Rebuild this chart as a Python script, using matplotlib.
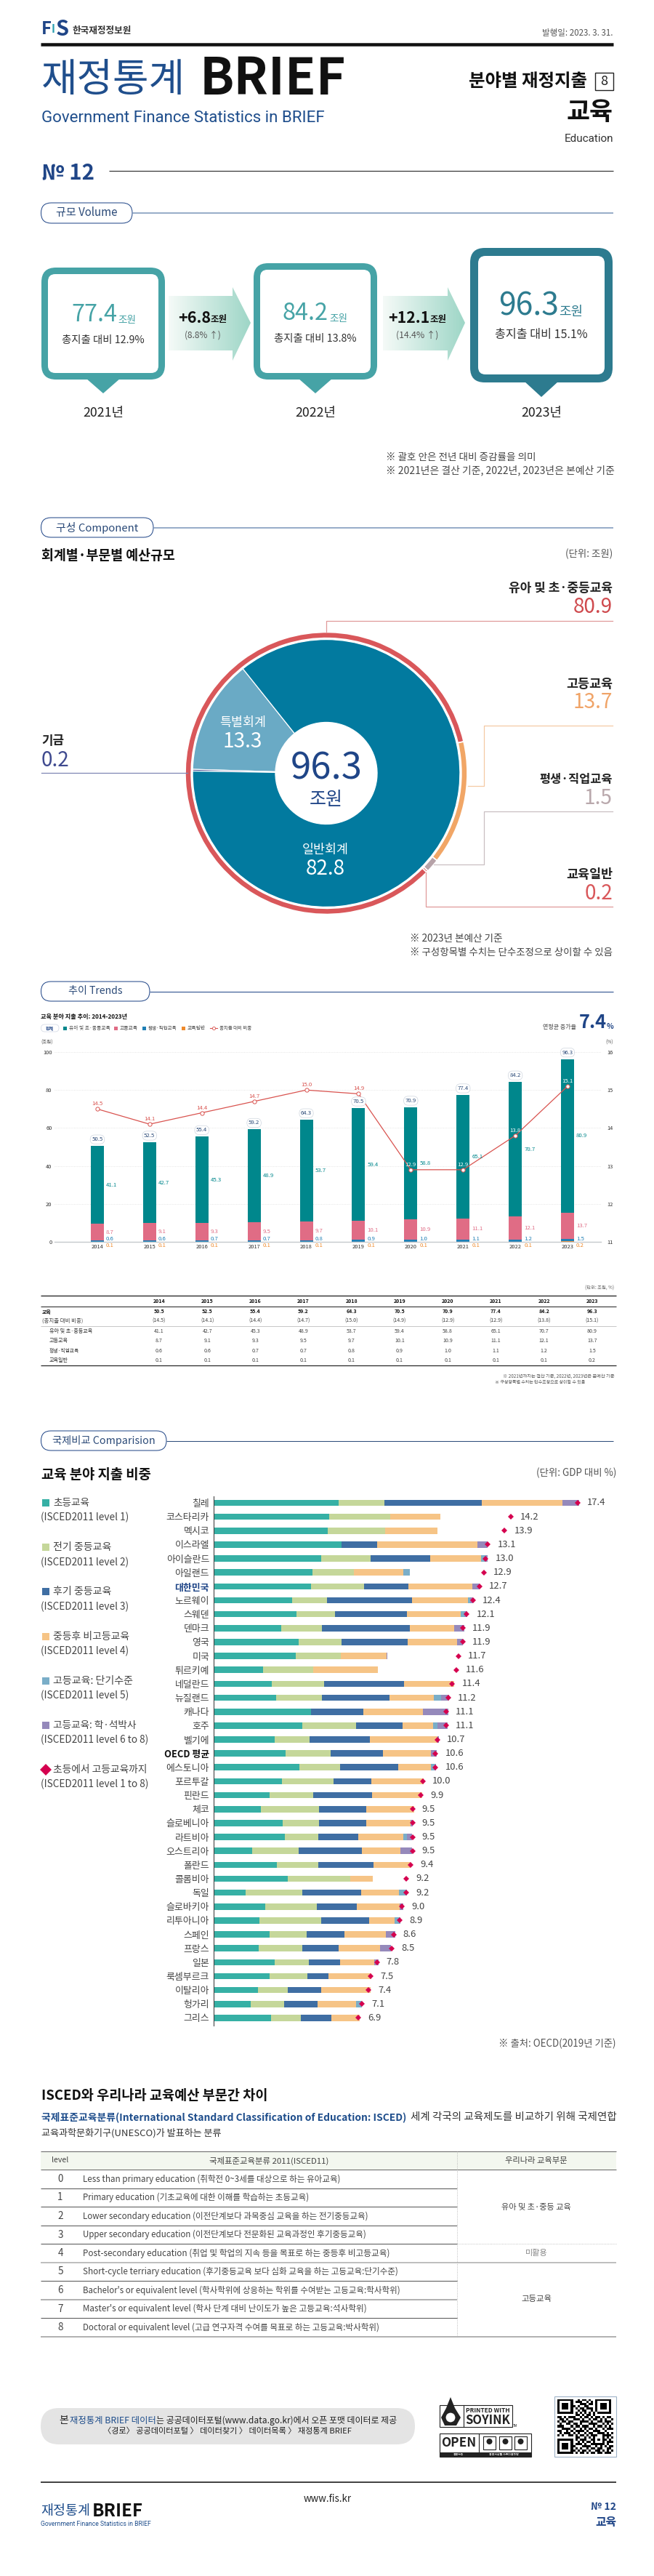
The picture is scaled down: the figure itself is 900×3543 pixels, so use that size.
import numpy as np
import matplotlib
matplotlib.use("Agg")
import matplotlib.pyplot as plt
from matplotlib.patches import FancyBboxPatch, Polygon, Rectangle, Circle

plt.rcParams['font.family'] = ['Noto Sans CJK KR', 'DejaVu Sans']

W, H = 900, 3543
NAVY = '#1f4587'

# volume
vol_years = ['2021년', '2022년', '2023년']
vol_values = ['77.4', '84.2', '96.3']
vol_shares = ['총지출 대비 12.9%', '총지출 대비 13.8%', '총지출 대비 15.1%']
vol_diffs = ['+6.8', '+12.1']
vol_rates = ['(8.8% ↑)', '(14.4% ↑)']

# component
sector_names = ['유아 및 초·중등교육', '고등교육', '평생·직업교육', '교육일반']
sector_values = [80.9, 13.7, 1.5, 0.2]
sector_colors = ['#d9575a', '#f1a666', '#b6a2a8', '#d9575a']
account_names = ['특별회계', '기금', '일반회계']
account_values = [13.3, 0.2, 82.8]
account_colors = ['#6aaac5', '#3f4a8f', '#027a9f']

# trends
years = [2014, 2015, 2016, 2017, 2018, 2019, 2020, 2021, 2022, 2023]
totals = [50.5, 52.5, 55.4, 59.2, 64.3, 70.5, 70.9, 77.4, 84.2, 96.3]
shares = [14.5, 14.1, 14.4, 14.7, 15.0, 14.9, 12.9, 12.9, 13.8, 15.1]
school = [41.1, 42.7, 45.3, 48.9, 53.7, 59.4, 58.8, 65.1, 70.7, 80.9]
higher = [8.7, 9.1, 9.3, 9.5, 9.7, 10.1, 10.9, 11.1, 12.1, 13.7]
lifelong = [0.6, 0.6, 0.7, 0.7, 0.8, 0.9, 1.0, 1.1, 1.2, 1.5]
general = [0.1, 0.1, 0.1, 0.1, 0.1, 0.1, 0.1, 0.1, 0.1, 0.2]

# comparison, GDP %
countries = ['칠레', '코스타리카', '멕시코', '이스라엘', '아이슬란드', '아일랜드', '대한민국', '노르웨이',
             '스웨덴', '덴마크', '영국', '미국', '튀르키예', '네덜란드', '뉴질랜드', '캐나다', '호주', '벨기에',
             'OECD 평균', '에스토니아', '포르투갈', '핀란드', '체코', '슬로베니아', '라트비아', '오스트리아',
             '폴란드', '콜롬비아', '독일', '슬로바키아', '리투아니아', '스페인', '프랑스', '일본', '룩셈부르크',
             '이탈리아', '헝가리', '그리스']
all_levels = [17.4, 14.2, 13.9, 13.1, 13.0, 12.9, 12.7, 12.4, 12.1, 11.9, 11.9, 11.7, 11.6, 11.4, 11.2, 11.1,
              11.1, 10.7, 10.6, 10.6, 10.0, 9.9, 9.5, 9.5, 9.5, 9.5, 9.4, 9.2, 9.2, 9.0, 8.9, 8.6, 8.5, 7.8,
              7.5, 7.4, 7.1, 6.9]
primary = [5.96, 5.53, 5.44, 6.11, 5.14, 4.71, 4.64, 3.74, 3.96, 3.23, 4.06, 3.93, 2.36, 2.79, 2.99, 4.67, 4.24,
           2.92, 3.44, 4.11, 3.27, 2.67, 2.26, 3.31, 3.40, 1.85, 3.03, 3.55, 1.53, 2.47, 2.19, 2.67, 2.15, 2.92,
           2.69, 2.11, 1.76, 2.75]
lower_sec = [2.19, 2.90, 2.75, 0, 2.36, 1.98, 2.54, 1.68, 1.85, 1.96, 2.04, 2.13, 2.39, 2.49, 2.17, 0, 2.58,
             1.68, 2.15, 1.94, 2.47, 2.09, 2.79, 1.74, 1.61, 2.21, 1.98, 2.99, 2.69, 2.47, 2.95, 1.78, 2.09, 1.64,
             1.78, 1.44, 1.61, 1.40]
upper_sec = [4.67, 0, 0, 1.70, 2.84, 0, 2.11, 4.06, 3.44, 4.19, 3.16, 0, 0, 3.81, 3.23, 2.47, 2.21,
             2.88, 2.50, 2.77, 1.81, 2.82, 2.24, 2.24, 1.89, 3.03, 2.62, 0, 2.84, 1.89, 2.30, 1.81, 1.72, 1.48,
             1.01, 1.59, 1.61, 1.46]
post_sec = [3.85, 2.39, 2.52, 4.80, 2.43, 2.36, 3.07, 2.69, 2.56, 2.11, 2.36, 2.21, 3.10, 2.39, 2.13, 2.86, 1.46,
            3.23, 2.30, 1.55, 2.47, 2.39, 2.30, 2.13, 2.17, 1.83, 1.79, 1.08, 1.81, 2.06, 1.20, 1.98, 2.00, 1.64,
            2.04, 2.36, 1.81, 1.38]
short_cycle = [0, 0, 0, 0, 0.22, 0.34, 0, 0.10, 0.17, 0, 0, 0, 0, 0, 0.36, 0, 0.21,
               0, 0, 0.21, 0, 0, 0, 0, 0.15, 0, 0, 0, 0.36, 0, 0.30, 0, 0, 0,
               0, 0, 0.30, 0]
bachelor = [0.79, 0, 0, 0.49, 0.11, 0, 0.34, 0.13, 0.15, 0.50, 0.28, 0.03, 0, 0.03, 0.36, 1.23, 0.49,
            0.07, 0.28, 0.05, 0, 0, 0, 0.09, 0.26, 0.56, 0, 0, 0, 0.17, 0, 0.43, 0.52, 0.19,
            0, 0, 0, 0]
level_colors = ['#36b0a5', '#c5d79a', '#3f6ea3', '#f6c486', '#7aaec8', '#9589bb']
level_names = ['초등교육', '전기 중등교육', '후기 중등교육', '중등후 비고등교육', '고등교육: 단기수준', '고등교육: 학·석박사']
level_codes = ['(ISCED2011 level 1)', '(ISCED2011 level 2)', '(ISCED2011 level 3)', '(ISCED2011 level 4)',
               '(ISCED2011 level 5)', '(ISCED2011 level 6 to 8)']

# ISCED table
isced_rows = ['Less than primary education (취학전 0~3세를 대상으로 하는 유아교육)',
              'Primary education (기초교육에 대한 이해를 학습하는 초등교육)',
              'Lower secondary education (이전단계보다 과목중심 교육을 하는 전기중등교육)',
              'Upper secondary education (이전단계보다 전문화된 교육과정인 후기중등교육)',
              'Post-secondary education (취업 및 학업의 지속 등을 목표로 하는 중등후 비고등교육)',
              'Short-cycle terriary education (후기중등교육 보다 심화 교육을 하는 고등교육:단기수준)',
              "Bachelor's or equivalent level (학사학위에 상응하는 학위를 수여받는 고등교육:학사학위)",
              "Master's or equivalent level (학사 단계 대비 난이도가 높은 고등교육:석사학위)",
              'Doctoral or equivalent level (고급 연구자격 수여를 목표로 하는 고등교육:박사학위)']
isced_right = [468, 425, 507, 504, 536, 548, 550, 503, 522]

qr_rows = ['1111111001011010011111110',
           '1000001011100101010000010',
           '1011101000111011010111010',
           '1011101101001100010111010',
           '1011101010110111010111010',
           '1000001001011001010000010',
           '1111111010101010101111110',
           '0000000011010110100000000',
           '1101011100101101011010110',
           '0110100111010010110101001',
           '1011011000111101001101110',
           '0100110110100011110010101',
           '1110001011011100101101010',
           '0011110100101011010010111',
           '1100101011110100111001000',
           '0101110101001011001110101',
           '1010011010110101110011110',
           '0000000011001010100010101',
           '1111111010111001101011010',
           '1000001001010110100010111',
           '1011101011101001111110100',
           '1011101100011110010101011',
           '1011101010100101101100110',
           '1000001101011010011010101',
           '1111111010110101101101110']

fig = plt.figure(figsize=(W / 100, H / 100), dpi=100, facecolor='white')
rend = fig.canvas.get_renderer()


def px_axes(x0, y0, x1, y1):
    return fig.add_axes([x0 / W, 1 - y1 / H, (x1 - x0) / W, (y1 - y0) / H])


bg = fig.add_axes([0, 0, 1, 1], zorder=10)
bg.set_xlim(0, W)
bg.set_ylim(H, 0)
bg.axis('off')
bg.patch.set_alpha(0)


def txt(x, y, s, px, color='#333333', ha='left', weight='normal', w=None, family=None, ax=None):
    a = ax or bg
    t = a.text(x, y, s, fontsize=px * 0.72, color=color, ha=ha, va='center', fontweight=weight)
    if family:
        t.set_family(family)
    if w:
        t.set_fontsize(t.get_fontsize() * w / t.get_window_extent(rend).width)
    return t


def hline(x0, x1, y, color='#333333', lw=1, ls='-'):
    bg.plot([x0, x1], [y, y], color=color, lw=lw * 0.72, ls=ls, solid_capstyle='butt')


def rbox(x0, y0, x1, y1, r, fc, ec='none', lw=0):
    bg.add_patch(FancyBboxPatch((x0, y0), x1 - x0, y1 - y0, boxstyle=f'round,pad=0,rounding_size={r}',
                                fc=fc, ec=ec, lw=lw * 0.72))


def section(x1, y0, y1, label, w, line, lw=1.5):
    hline(x1, 844, (y0 + y1) / 2, line, lw)
    rbox(56.5, y0, x1, y1, (y1 - y0) / 2, 'white', NAVY, 1)
    txt((56 + x1) / 2, (y0 + y1) / 2, label, 16, '#2b4a78', ha='center', w=w)


# header
txt(57, 40, 'F', 33, NAVY, weight='bold', w=14)
txt(71, 40, 'I', 33, '#2a9fb0', weight='bold', w=5)
txt(77, 40, 'S', 33, NAVY, weight='bold', w=18)
txt(100, 42, '한국재정정보원', 13, '#333333', weight='bold', w=82)
txt(844, 45, '발행일: 2023. 3. 31.', 11, '#555555', ha='right', w=97)
hline(56, 844, 61, '#111111', 4.5)
txt(57, 110, '재정통계', 54, '#1f4e8c', w=198)
txt(275, 110, 'BRIEF', 72, '#111111', weight='bold', w=201)
txt(57, 162, 'Government Finance Statistics in BRIEF', 25, '#1f4e8c', w=391, family=['Liberation Sans Narrow', 'Roboto'])
txt(808, 112, '분야별 재정지출', 26, '#111111', ha='right', weight='bold', w=163)
bg.add_patch(Rectangle((819, 100), 24.5, 24, fc='white', ec='#222222', lw=1))
txt(831, 112, '8', 18, '#222222', ha='center')
txt(844, 154, '교육', 34, '#111111', ha='right', weight='bold', w=64)
txt(844, 191, 'Education', 18, '#333333', ha='right', w=68, family=['Liberation Sans Narrow', 'Roboto'])
txt(57, 237, '№ 12', 31, '#1f4587', weight='bold', w=73)
hline(150, 844, 235, '#333333', 1.2)

# volume section
section(182, 279, 307, '규모 Volume', 85, '#7792b8')
vol_boxes = [(57, 368, 227, 522, 541, '#46a3a6', 8), (349, 362, 519, 522, 541, '#46a3a6', 8),
             (647, 341, 843, 526, 546, '#2d7b8f', 10)]
for (x0, y0, x1, y1, tip, col, b), year in zip(vol_boxes, vol_years):
    cx = (x0 + x1) / 2
    bg.add_patch(Polygon([(cx - 24, y1 - 2), (cx + 24, y1 - 2), (cx, tip)], fc=col, ec='none'))
    rbox(x0, y0, x1, y1, 20, col)
    rbox(x0 + b + 1, y0 + b + 1, x1 - b - 1, y1 - b - 1, 10, 'white')
    txt(cx, 568, year, 20, '#222222', ha='center', w=56)

vol_num_pos = [(98, 433, 63, 162, 440, 25), (389, 431, 63, 453, 438, 25), (686, 422, 83, 769, 429, 33)]
vol_num_cols = ['#46a3a6', '#46a3a6', '#2d7b8f']
vol_share_y = [(142, 468, 114), (434, 466, 114), (745, 461, 128)]
for val, (x, y, w, xu, yu, wu), col, share, (cx, ys, ws) in zip(vol_values, vol_num_pos, vol_num_cols, vol_shares, vol_share_y):
    txt(x, y, val, 40, col, w=w)
    txt(xu, yu, '조원', 14, col, w=wu)
    txt(cx, ys, share, 16, '#333333', ha='center', w=ws)

for x0, xh, x1 in [(232, 320, 345), (527, 616, 640)]:
    grad = np.linspace([0.96, 0.98, 0.97], [0.62, 0.84, 0.78], 100).reshape(1, 100, 3)
    pts = [(x0, 407), (xh, 407), (xh, 395), (x1, 444), (xh, 496), (xh, 482), (x0, 482)]
    poly = Polygon(pts, fc='none', ec='none', transform=bg.transData)
    bg.add_patch(poly)
    im = bg.imshow(grad, extent=[x0, x1, 496, 395], aspect='auto', zorder=1)
    im.set_clip_path(poly)
bg.set_xlim(0, W)
bg.set_ylim(H, 0)

txt(245, 437, vol_diffs[0], 24, '#111111', weight='bold', w=45)
txt(290, 439, '조원', 13, '#111111', weight='bold', w=23)
txt(279, 461, vol_rates[0], 14, '#555555', ha='center', w=50)
txt(534, 437, vol_diffs[1], 24, '#111111', weight='bold', w=57)
txt(591, 439, '조원', 13, '#111111', weight='bold', w=23)
txt(574, 461, vol_rates[1], 14, '#555555', ha='center', w=58)
txt(531, 629, '※ 괄호 안은 전년 대비 증감률을 의미', 15, '#444444', w=206)
txt(531, 647, '※ 2021년은 결산 기준, 2022년, 2023년은 본예산 기준', 15, '#444444', w=312)

# component section
section(211, 712, 739, '구성 Component', 114, '#7792b8')
txt(57, 765, '회계별·부문별 예산규모', 20, '#111111', weight='bold', w=184)
txt(843, 762, '(단위: 조원)', 14, '#555555', ha='right', w=65)

leaders = [([449, 449, 843], [869, 853.5, 853.5], '#e09a9a'),
           ([644, 666, 666, 843], [1081, 1081, 997.5, 997.5], '#f4c9a4'),
           ([597, 666, 666, 843], [1189, 1189, 1116, 1116], '#c9bfc2'),
           ([586, 586, 843], [1200, 1247, 1247], '#e09a9a'),
           ([57, 258], [1063, 1063], '#7f86b4')]
for xs, ys, col in leaders:
    bg.plot(xs, ys, color=col, lw=0.9)

pie_ax = px_axes(255, 869, 643, 1258)
pie_ax.pie(sector_values, radius=1.0, startangle=-44.6, counterclock=False, colors=sector_colors,
           wedgeprops=dict(width=0.042, edgecolor='white', linewidth=1.2))
pie_ax.pie(account_values, radius=0.948, startangle=128.6, counterclock=True, colors=account_colors,
           wedgeprops=dict(width=0.948 - 0.361, edgecolor='white', linewidth=0.9))
pie_ax.set_xlim(-1, 1)
pie_ax.set_ylim(-1, 1)

sector_pos = [(809, 835, '#cf4a4e'), (941, 966, '#f0a468'), (1072, 1098, '#b9a8ac'), (1203, 1229, '#d9575a')]
sector_w = [143, 64, 100, 64]
for name, val, (y0, y1, col), w in zip(sector_names, sector_values, sector_pos, sector_w):
    txt(843, y0, name, 20, '#222222', ha='right', weight='bold', w=w)
    txt(843, y1, f'{val}', 28, col, ha='right')
txt(57, 1019.5, account_names[1], 20, '#222222', weight='bold', w=31)
txt(57, 1046, f'{account_values[1]}', 28, '#3f4a8f')
txt(334, 994, account_names[0], 19, 'white', ha='center', w=64)
txt(334, 1020, f'{account_values[0]}', 28, 'white', ha='center')
txt(448, 1169, account_names[2], 19, 'white', ha='center', w=64)
txt(448, 1195, f'{account_values[2]}', 28, 'white', ha='center')
txt(449, 1058, vol_values[2], 48, NAVY, ha='center', w=99)
txt(449, 1100, '조원', 26, NAVY, ha='center', w=46)
txt(564, 1291, '※ 2023년 본예산 기준', 14, '#444444', w=129)
txt(564, 1310, '※ 구성항목별 수치는 단수조정으로 상이할 수 있음', 14, '#444444', w=278)

# trends section
section(206, 1350, 1377, '추이 Trends', 75, NAVY, 1)
txt(56, 1398, '교육 분야 지출 추이: 2014-2023년', 8.5, '#111111', weight='bold', w=118)
rbox(56.5, 1409, 81, 1419, 5, 'white', '#d5dbe6', 0.8)
txt(68.7, 1414, '합계', 6, NAVY, ha='center', weight='bold')
trend_colors = ['#00878c', '#e06c85', '#1f7fb5', '#ef8a2c']
for sx, tx, name, col, w in zip([87, 157, 196, 250], [95, 165, 204, 258], sector_names, trend_colors, [56, 25, 39, 25]):
    bg.add_patch(Rectangle((sx, 1411.5), 5, 5, fc=col, ec='none'))
    txt(tx, 1414, name, 7, '#444444', w=w)
bg.plot([289, 299], [1414, 1414], color='#d9534f', lw=0.8)
bg.plot([294], [1414], color='#d9534f', marker='o', ms=3, mfc='white', mec='#d9534f', mew=0.6)
txt(302, 1414, '총지출 대비 비중', 7, '#444444', w=44)
txt(56, 1434, '(조원)', 6.5, '#555555')
txt(839, 1434, '(%)', 6.5, '#555555', ha='center')
txt(793, 1413, '연평균 증가율', 8, '#444444', ha='right', w=46)
txt(797, 1407, '7.4', 32, NAVY, weight='bold', w=38)
txt(835, 1412, '%', 10, NAVY, weight='bold')

idx = np.arange(len(years))
ax = px_axes(75, 1447, 827, 1708)
ax.patch.set_alpha(0)
school_b = np.array(general) + np.array(lifelong)
higher_top = school_b + np.array(higher)
ax.bar(idx, general, 0.25, color=trend_colors[3])
ax.bar(idx, lifelong, 0.25, bottom=general, color=trend_colors[2])
ax.bar(idx, higher, 0.25, bottom=school_b, color=trend_colors[1])
ax.bar(idx, school, 0.25, bottom=higher_top, color=trend_colors[0])
ax.set_xlim(-0.82, 9.64)
ax.set_ylim(0, 100)
ax.set_yticks([0, 20, 40, 60, 80, 100])
ax.set_xticks(idx)
ax.set_xticklabels(years)
ax.tick_params(length=0, labelsize=5.4, labelcolor='#333333', pad=2.5)
ax.grid(axis='y', color='#dddddd', lw=0.6, ls=':')
ax.set_axisbelow(True)
for s in ['top', 'left', 'right']:
    ax.spines[s].set_visible(False)
ax.spines['bottom'].set_color('#c4c8cc')
ax.spines['bottom'].set_linewidth(1)

ax2 = ax.twinx()
ax2.patch.set_alpha(0)
ax2.plot(idx, shares, color='#d9534f', lw=0.9, marker='o', ms=3.8, mfc='white', mec='#d9534f', mew=0.7, zorder=3)
ax2.set_ylim(11, 16)
ax2.set_yticks([11, 12, 13, 14, 15, 16])
ax2.tick_params(length=0, labelsize=5.4, labelcolor='#333333', pad=6)
for s in ax2.spines.values():
    s.set_visible(False)

for i, yr in enumerate(years):
    lab_col = 'white' if yr >= 2020 else '#d9534f'
    ax2.annotate(f'{shares[i]:.1f}', (i, shares[i]), xytext=(0, 5), textcoords='offset points', ha='center', va='center',
                 fontsize=5.6, color=lab_col, zorder=6)
    ax2.annotate(f'{totals[i]}', (i, totals[i]), xycoords=ax.transData, xytext=(0, 6.5), textcoords='offset points',
                 ha='center', va='center', fontsize=5.6, color='#2b4a78', zorder=5,
                 bbox=dict(boxstyle='round,pad=0.28,rounding_size=0.8', fc='white', ec='#cfd6df', lw=0.5))
    ax2.annotate(f'{school[i]}', (i, higher_top[i] + school[i] / 2), xycoords=ax.transData, xytext=(8.7, 0),
                 textcoords='offset points', va='center', fontsize=5.6, color=trend_colors[0], zorder=5)
    ax2.annotate(f'{higher[i]}', (i, school_b[i] + higher[i] / 2), xycoords=ax.transData, xytext=(8.7, 0),
                 textcoords='offset points', va='center', fontsize=5.6, color=trend_colors[1], zorder=5)
    ax2.annotate(f'{lifelong[i]}', (i, 0), xycoords=ax.transData, xytext=(8.7, 3), textcoords='offset points',
                 va='center', fontsize=5.6, color=trend_colors[2], zorder=5, annotation_clip=False)
    ax2.annotate(f'{general[i]}', (i, 0), xycoords=ax.transData, xytext=(8.7, -3.6), textcoords='offset points',
                 va='center', fontsize=5.6, color=trend_colors[3], zorder=5, annotation_clip=False)

# trends table
col_x = [219 + 66.2 * i for i in range(len(years))]
txt(845, 1772, '(단위: 조원, %)', 6.5, '#666666', ha='right', w=40)
hline(56, 848, 1782, '#222222', 1.3)
hline(56, 848, 1797, '#222222', 1)
hline(56, 848, 1824, '#c8c8c8', 1)
hline(56, 848, 1878, '#222222', 1.2)
txt(58, 1804, '교육', 7, '#111111', weight='bold')
txt(58, 1817, '(총지출 대비 비중)', 7, '#444444', w=56)
table_rows = [(sector_names[0], 68, 1831, school, 59), (sector_names[1], 68, 1844, higher, 26),
              (sector_names[2], 68, 1858, lifelong, 41), (sector_names[3], 68, 1871, general, 26)]
for name, x, y, vals, w in table_rows:
    txt(x, y, name, 7, '#333333', w=w)
    for cx, v in zip(col_x, vals):
        txt(cx, y, f'{v}', 7, '#444444', ha='center')
for cx, yr, tot, sh in zip(col_x, years, totals, shares):
    txt(cx, 1790, f'{yr}', 7, '#111111', ha='center', weight='bold')
    txt(cx, 1804, f'{tot}', 7, '#111111', ha='center', weight='bold')
    txt(cx, 1817, f'({sh:.1f})', 7, '#444444', ha='center')
txt(845, 1893, '※ 2021년까지는 결산 기준, 2022년, 2023년은 본예산 기준', 6, '#555555', ha='right', w=155)
txt(805, 1901, '※ 구성항목별 수치는 단수조정으로 상이할 수 있음', 6, '#555555', ha='right', w=125)

# comparison section
section(229, 1968, 1995, '국제비교 Comparision', 142, '#2b4a78', 1)
txt(57, 2028, '교육 분야 지출 비중', 20, '#111111', weight='bold', w=151)
txt(848, 2026, '(단위: GDP 대비 %)', 14, '#555555', ha='right', w=110)

legend_y = [(2067, 2087), (2128, 2149), (2189, 2210), (2251, 2271), (2312, 2332), (2373, 2393)]
legend_w = [50, 80, 80, 105, 110, 115]
for name, code, col, (y0, y1), w in zip(level_names, level_codes, level_colors, legend_y, legend_w):
    bg.add_patch(Rectangle((58, y0 - 5), 10, 10, fc=col, ec='none'))
    txt(73, y0, name, 14, '#444444', w=w)
    txt(56, y1, code, 13, '#444444', w=148 if 'to' in code else 121)
bg.plot([62.5], [2434], marker='D', ms=8, color='#d5004f', mew=0)
txt(73, 2434, '초등에서 고등교육까지', 14, '#444444', w=130)
txt(56, 2454, '(ISCED2011 level 1 to 8)', 13, '#444444', w=148)

pos = np.arange(len(countries))
hb = px_axes(294, 2058, 848, 2786)
hb.patch.set_alpha(0)
left = np.zeros(len(countries))
for vals, col in zip([primary, lower_sec, upper_sec, post_sec, short_cycle, bachelor], level_colors):
    hb.barh(pos, vals, 0.45, left=left, color=col)
    left = left + np.array(vals)
hb.plot(all_levels, pos, ls='none', marker='D', ms=3.6, color='#d5004f', mew=0, zorder=5)
hb.set_xlim(0, 554 / 28.8)
hb.set_ylim(37.55, -0.47)
hb.set_yticks(pos)
hb.set_yticklabels(countries)
hb.set_xticks([])
hb.tick_params(axis='y', length=0, labelsize=9.3, labelcolor='#444444', pad=4.3)
for lab in hb.get_yticklabels():
    if lab.get_text() == '대한민국':
        lab.set_color(NAVY)
        lab.set_fontweight('bold')
    elif lab.get_text().startswith('OECD'):
        lab.set_color('#111111')
        lab.set_fontweight('bold')
for s in ['top', 'right', 'bottom']:
    hb.spines[s].set_visible(False)
hb.spines['left'].set_color('#444444')
for i, v in enumerate(all_levels):
    hb.annotate(f'{v:.1f}', (v, i), xytext=(9.5, 0), textcoords='offset points', va='center', fontsize=9.4, color='#444444')
txt(848, 2811, '※ 출처: OECD(2019년 기준)', 14, '#555555', ha='right', w=162)

# isced section
txt(57, 2882, 'ISCED와 우리나라 교육예산 부문간 차이', 20, '#111111', weight='bold', w=311)
txt(57, 2912, '국제표준교육분류(International Standard Classification of Education: ISCED)', 14, '#1f4e8c', weight='bold', w=502)
txt(565, 2912, '세계 각국의 교육제도를 비교하기 위해 국제연합', 14, '#333333', w=283)
txt(57, 2934, '교육과학문화기구(UNESCO)가 발표하는 분류', 14, '#333333', w=248)

bg.add_patch(Rectangle((56, 2959), 792, 25, fc='#f3f7ef', ec='none'))
hline(56, 848, 2959, '#666666', 1)
hline(56, 848, 2984, '#666666', 1)
for y in [3010, 3035, 3061, 3086, 3137, 3188]:
    hline(56, 629, y, '#555555', 1)
hline(629, 848, 3086, '#aaaaaa', 0.8, ':')
hline(56, 848, 3112, '#aaaaaa', 1.5)
hline(56, 629, 3163, '#999999', 1.5)
hline(56, 848, 3214, '#aaaaaa', 1.8)
bg.plot([629, 629], [2959, 3214], color='#aaaaaa', lw=0.6, ls=':')
txt(83, 2971.5, 'level', 13, '#444444', ha='center', w=23)
txt(370, 2971.5, '국제표준교육분류 2011(ISCED11)', 13, '#444444', ha='center', w=165)
txt(738, 2971.5, '우리나라 교육부문', 13, '#444444', ha='center', w=86)
for i, (row, right) in enumerate(zip(isced_rows, isced_right)):
    y = 2997 + i * 25.5
    txt(83, y, str(i), 13.5, '#444444', ha='center')
    txt(114, y, row, 13.5, '#444444', w=right - 114)
txt(738, 3036, '유아 및 초·중등 교육', 13, '#444444', ha='center', w=96)
txt(738, 3099, '미활용', 13, '#888888', ha='center', w=31)
txt(738, 3162, '고등교육', 13, '#444444', ha='center', w=42)

# footer
rbox(56, 3312, 571, 3362, 25, '#e4e4e4')
txt(81, 3329, '본', 14, '#222222')
txt(96, 3329, '재정통계 BRIEF 데이터', 14, '#1f4e8c', w=119)
txt(215, 3329, '는 공공데이터포털(www.data.go.kr)에서 오픈 포맷 데이터로 제공', 14, '#222222', w=331)
txt(313, 3344, '〈경로〉 공공데이터포털 〉 데이터찾기 〉 데이터목록 〉 재정통계 BRIEF', 14, '#222222', ha='center', w=343)

bg.add_patch(Rectangle((604.5, 3308), 100, 30, fc='white', ec='#222222', lw=0.8))
bg.plot([638, 638], [3308, 3338], color='#222222', lw=0.8)
bg.add_patch(Polygon([(620, 3297), (626, 3312), (634, 3325), (628, 3336), (612, 3336), (607, 3325), (614, 3312)], fc='#222222', ec='none'))
bg.add_patch(Circle((620, 3325), 7, fc='white', ec='#222222', lw=0.8))
txt(671, 3316, 'PRINTED WITH', 7.5, '#222222', ha='center', weight='bold', w=60)
txt(671, 3329, 'SOYINK', 16, '#222222', ha='center', weight='bold', w=62)
txt(706, 3337, 'TM', 4.5, '#222222')

bg.add_patch(Rectangle((604.5, 3347), 126, 32, fc='white', ec='#222222', lw=0.8))
bg.add_patch(Rectangle((604.5, 3373), 126, 6, fc='#222222', ec='none'))
bg.plot([659, 659], [3347, 3373], color='#222222', lw=0.8)
txt(631, 3360, 'OPEN', 15, '#222222', ha='center', weight='bold', w=48)
for bx in [665, 687, 708]:
    bg.add_patch(Rectangle((bx, 3351), 17, 18, fc='white', ec='#222222', lw=0.8))
    bg.add_patch(Circle((bx + 8.5, 3358), 4, fc='#222222', ec='none'))
txt(631, 3376, '공공누리', 4, 'white', ha='center')
txt(693, 3376, '공공저작물 자유이용허락', 4, 'white', ha='center')

bg.add_patch(Rectangle((763, 3296), 85, 83, fc='none', ec='#9fb3c8', lw=0.8))
qr_ax = px_axes(767, 3300, 844, 3375)
qr_ax.imshow([[int(c) for c in row] for row in qr_rows], cmap='gray_r', aspect='auto', interpolation='nearest')
qr_ax.axis('off')

hline(56, 848, 3414, '#444444', 2)
txt(451, 3437, 'www.fis.kr', 14, '#222222', ha='center', w=66)
txt(56, 3454, '재정통계', 22, '#1f4e8c', w=68)
txt(127, 3454, 'BRIEF', 30, '#111111', weight='bold', w=70)
txt(56, 3471, 'Government Finance Statistics in BRIEF', 11, '#1f4e8c', w=152, family=['Liberation Sans Narrow', 'Roboto'])
txt(848, 3448, '№ 12', 15, NAVY, ha='right', weight='bold', w=35)
txt(848, 3469, '교육', 18, NAVY, ha='right', weight='bold', w=29)

fig.savefig('out.png', dpi=100)
